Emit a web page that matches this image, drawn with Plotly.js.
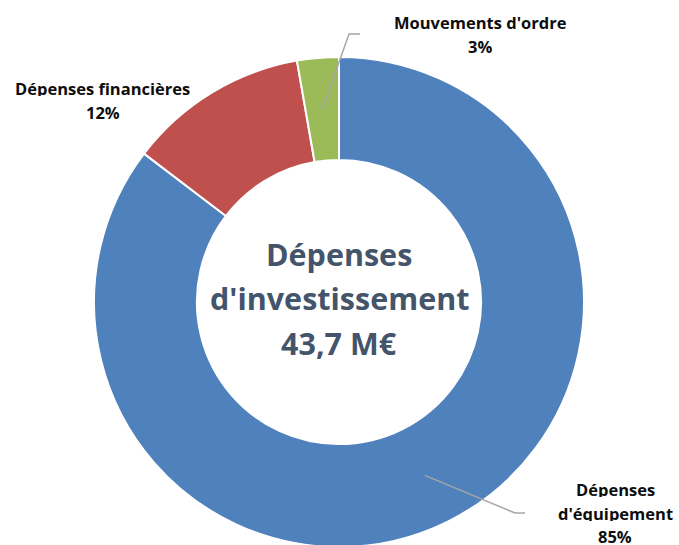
<!DOCTYPE html>
<html>
<head>
<meta charset="utf-8">
<script src="https://cdn.plot.ly/plotly-3.0.1.min.js"></script>
<style>
html,body{margin:0;padding:0;overflow:hidden;background:#fff;}
#chart{width:679px;height:550px;}
</style>
</head>
<body>
<div id="chart"></div>
<script>
// Data (M€)
const categories = ["Dépenses d'équipement", "Dépenses financières", "Mouvements d'ordre"];
const labelLines = [["Dépenses", "d'équipement"], ["Dépenses financières"], ["Mouvements d'ordre"]];
const values = [37.3, 5.2, 1.2];
const percentLabels = ["85%", "12%", "3%"];
const colors = ["#4F81BD", "#C0504D", "#9BBB59"];
const centerTitle = ["Dépenses", "d'investissement", "43,7 M€"];

// Layout geometry
const W = 679, H = 550;
const cx = 339, cy = 302, R = 245, hole = 0.58;
const X = px => px / W;
const Y = py => 1 - py / H;

// label anchors: x centre, y of first line centre; line spacing
const labelPos = [[615, 489], [103, 88], [480, 22]];
const labelSteps = [23.5, 24, 24];
const elbows = [[[515, 513], [525, 513]], null, [[349, 34], [360, 34]]];
const FONT = "'Open Sans', sans-serif";

const total = values.reduce((a, b) => a + b, 0);
const annotations = [];
const shapes = [];
let cum = 0;
values.forEach((v, i) => {
  const mid = (cum + v / 2) / total;
  cum += v;
  const th = mid * 2 * Math.PI;
  const rm = R * (1 + hole) / 2;
  const tx = cx + rm * Math.sin(th);
  const ty = cy - rm * Math.cos(th);
  if (elbows[i]) {
    const e = elbows[i];
    shapes.push({
      type: 'path', xref: 'paper', yref: 'paper',
      path: `M ${X(tx)} ${Y(ty)} L ${X(e[0][0])} ${Y(e[0][1])} L ${X(e[1][0])} ${Y(e[1][1])}`,
      line: {color: '#A6A6A6', width: 1.5}
    });
  }
  const lines = labelLines[i].concat([percentLabels[i]]);
  lines.forEach((s, k) => {
    annotations.push({
      xref: 'paper', yref: 'paper', x: X(labelPos[i][0]), y: Y(labelPos[i][1] + k * labelSteps[i]),
      xanchor: 'center', yanchor: 'middle', showarrow: false,
      height: 16, valign: 'middle',
      text: '<b>' + s + '</b>',
      font: {family: FONT, size: 16.5, color: '#0D0D0D'}
    });
  });
});

centerTitle.forEach((s, k) => {
  annotations.push({
    xref: 'paper', yref: 'paper', x: X(cx), y: Y(cy - 48.5 + k * 44.5),
    xanchor: 'center', yanchor: 'middle', showarrow: false,
    text: '<b>' + s + '</b>',
    font: {family: FONT, size: 30.5, color: '#44546A'}
  });
});

const trace = {
  type: 'pie',
  labels: categories,
  values: values,
  hole: hole,
  sort: false,
  direction: 'clockwise',
  rotation: 0,
  textinfo: 'none',
  hoverinfo: 'label+percent',
  marker: {colors: colors, line: {color: '#FFFFFF', width: 2}},
  domain: {x: [X(cx - R), X(cx + R)], y: [Y(cy + R), Y(cy - R)]},
  showlegend: false
};

Plotly.newPlot('chart', [trace], {
  width: W, height: H,
  margin: {l: 0, r: 0, t: 0, b: 0},
  paper_bgcolor: '#FFFFFF',
  showlegend: false,
  annotations: annotations,
  shapes: shapes
}, {displayModeBar: false, staticPlot: true});
</script>
</body>
</html>
